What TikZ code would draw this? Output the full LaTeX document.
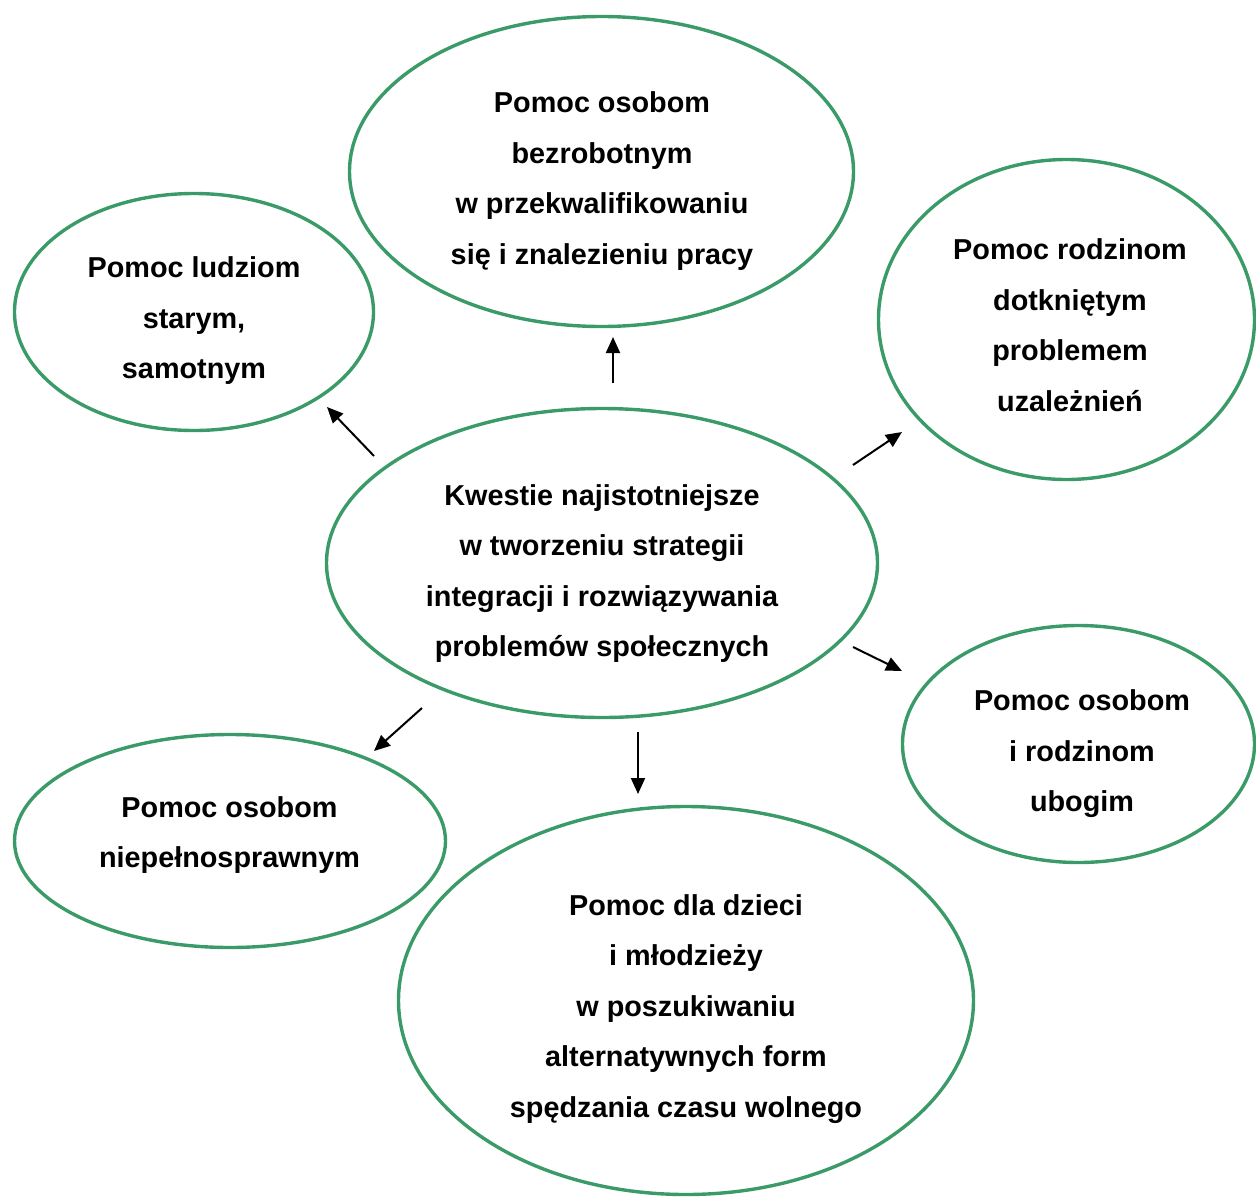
\documentclass[tikz,border=0pt]{standalone}
\usepackage{fontspec}
\setmainfont{Liberation Sans}
\usetikzlibrary{shapes.geometric,arrows.meta}
\definecolor{bgreen}{RGB}{58,154,104}
\tikzset{
  bubble/.style={ellipse, draw=bgreen, line width=3.4pt, inner sep=0pt},
  txt/.style={align=center, font=\fontsize{28.8}{50.5}\selectfont\bfseries, text=black},
  arr/.style={line width=2pt, -{Triangle[length=16pt,width=14pt]}}
}
\begin{document}
\begin{tikzpicture}[x=1pt,y=-1pt]
\useasboundingbox (0,0) rectangle (1256,1197);
% ellipses
\node[bubble, minimum width=504pt, minimum height=310pt] (top) at (601.5,171.5) {};
\node[bubble, minimum width=359pt, minimum height=237pt] (tl) at (194,312) {};
\node[bubble, minimum width=376pt, minimum height=320pt] (tr) at (1066.5,319.5) {};
\node[bubble, minimum width=551pt, minimum height=309pt] (ctr) at (602,563) {};
\node[bubble, minimum width=352pt, minimum height=237pt] (br) at (1078.5,744) {};
\node[bubble, minimum width=431pt, minimum height=213pt] (bl) at (230,841) {};
\node[bubble, minimum width=575pt, minimum height=388pt] (bot) at (686,1000.5) {};
% texts
\node[txt] (toptxt) at (602,181) {Pomoc osobom\\bezrobotnym\\w przekwalifikowaniu\\się i znalezieniu pracy};
\node[txt] (tltxt) at (194,321) {Pomoc ludziom\\starym,\\samotnym};
\node[txt] (trtxt) at (1070,325) {Pomoc rodzinom\\dotkniętym\\problemem\\uzależnień};
\node[txt] (ctrtxt) at (602,573.5) {Kwestie najistotniejsze\\w tworzeniu strategii\\integracji i rozwiązywania\\problemów społecznych};
\node[txt] (brtxt) at (1082,754) {Pomoc osobom\\i rodzinom\\ubogim};
\node[txt] (bltxt) at (229.5,835) {Pomoc osobom\\niepełnosprawnym};
\node[txt] (bottxt) at (686,1009) {Pomoc dla dzieci\\i młodzieży\\w poszukiwaniu\\alternatywnych form\\spędzania czasu wolnego};
% arrow ends
\coordinate (a1s) at (613,383); \coordinate (a1e) at (613,337);
\coordinate (a2s) at (374,456); \coordinate (a2e) at (327,407);
\coordinate (a3s) at (853,465); \coordinate (a3e) at (902,432);
\coordinate (a4s) at (853,647); \coordinate (a4e) at (902,671);
\coordinate (a5s) at (422,708); \coordinate (a5e) at (374,751);
\coordinate (a6s) at (638,732); \coordinate (a6e) at (638,794);
\draw[arr] (a1s) -- (a1e);
\draw[arr] (a2s) -- (a2e);
\draw[arr] (a3s) -- (a3e);
\draw[arr] (a4s) -- (a4e);
\draw[arr] (a5s) -- (a5e);
\draw[arr] (a6s) -- (a6e);
\end{tikzpicture}
\end{document}
